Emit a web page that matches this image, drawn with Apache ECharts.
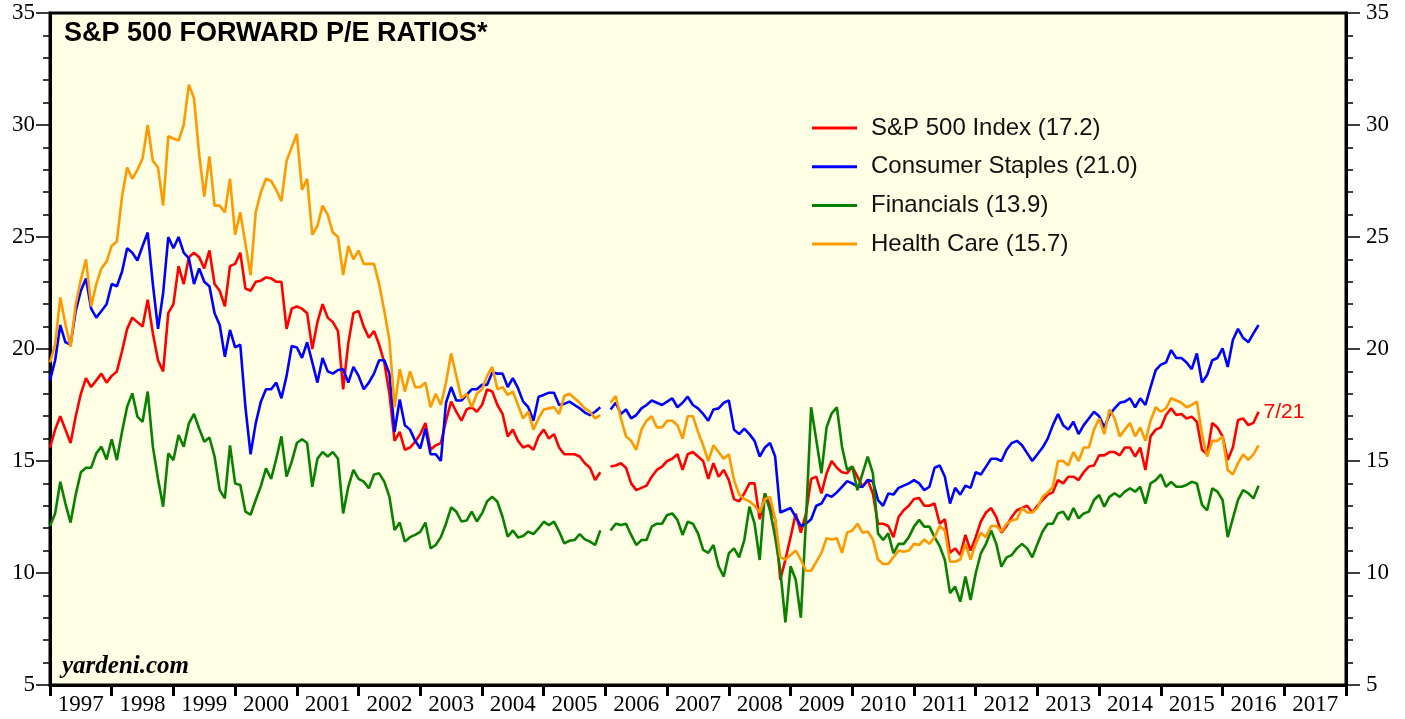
<!DOCTYPE html>
<html>
<head>
<meta charset="utf-8">
<title>S&amp;P 500 Forward P/E Ratios</title>
<script src="https://cdn.jsdelivr.net/npm/echarts@6/dist/echarts.min.js"></script>
<style>
  html, body { margin: 0; padding: 0; background: #fff; }
  #chart { width: 1405px; height: 719px; }
</style>
</head>
<body>
<div id="chart"></div>
<script>
// monthly readings, Jan 1997 .. Jul 2016 (index 108 = gap where the source switches to weekly data)
const startYear = 1997;
const yearLabels = ["1997", "1998", "1999", "2000", "2001", "2002", "2003", "2004", "2005", "2006", "2007",
  "2008", "2009", "2010", "2011", "2012", "2013", "2014", "2015", "2016", "2017"];

const sp500 = [
  15.6, 16.4, 17.0, 16.4, 15.8, 17.0, 18.0, 18.7, 18.3, 18.6,
  18.9, 18.5, 18.8, 19.0, 19.9, 20.9, 21.4, 21.2, 21.0, 22.2,
  20.7, 19.5, 19.0, 21.6, 22.0, 23.7, 22.9, 24.1, 24.3, 24.1,
  23.6, 24.4, 22.9, 22.6, 21.9, 23.7, 23.8, 24.3, 22.7, 22.6,
  23.0, 23.05, 23.2, 23.15, 23.0, 23.0, 20.9, 21.8, 21.9, 21.8,
  21.6, 20.0, 21.2, 22.0, 21.4, 21.2, 20.8, 18.2, 20.25, 21.6,
  21.7, 21.0, 20.5, 20.8, 20.2, 19.4, 18.0, 15.9, 16.3, 15.5,
  15.6, 15.86, 16.2, 16.7, 15.5, 15.7, 15.8, 16.8, 17.65, 17.2,
  16.8, 17.3, 17.4, 17.2, 17.5, 18.2, 18.1, 17.5, 17.1, 16.1,
  16.4, 15.9, 15.6, 15.7, 15.5, 16.1, 16.4, 16.0, 16.2, 15.6,
  15.3, 15.3, 15.3, 15.2, 14.9, 14.7, 14.15, 14.5, null, 14.75,
  14.8, 14.9, 14.7, 14.0, 13.7, 13.8, 13.9, 14.3, 14.6, 14.75,
  15.0, 15.1, 15.3, 14.6, 15.3, 15.4, 15.2, 15.0, 14.2, 14.9,
  14.3, 14.6, 14.15, 13.3, 13.2, 13.55, 14.0, 14.0, 12.4, 13.55,
  13.0, 12.4, 9.7, 10.6, 11.6, 12.65, 11.8, 12.65, 14.2, 14.3,
  13.55, 14.45, 15.0, 14.7, 14.5, 14.45, 14.75, 14.3, 13.85, 14.15,
  13.55, 12.2, 12.2, 12.1, 11.6, 12.5, 12.8, 13.0, 13.3, 13.35,
  13.0, 13.0, 13.1, 12.2, 12.4, 10.9, 11.1, 10.8, 11.7, 11.0,
  11.6, 12.3, 12.7, 12.9, 12.5, 11.8, 12.1, 12.5, 12.8, 12.9,
  13.0, 12.7, 13.0, 13.25, 13.5, 13.6, 14.15, 14.0, 14.3, 14.3,
  14.15, 14.5, 14.75, 14.8, 15.25, 15.25, 15.4, 15.4, 15.25, 15.6,
  15.6, 15.2, 15.6, 14.6, 16.1, 16.4, 16.5, 17.05, 17.35, 17.05,
  17.1, 16.9, 16.98, 16.75, 15.5, 15.3, 16.7, 16.5, 16.1, 15.05,
  15.6, 16.83, 16.9, 16.6, 16.7, 17.2
];

const staples = [
  18.6, 19.5, 21.07, 20.3, 20.2, 21.7, 22.6, 23.15, 21.8, 21.4,
  21.7, 22.0, 22.9, 22.8, 23.45, 24.5, 24.3, 23.95, 24.6, 25.2,
  22.9, 20.9, 22.5, 25.0, 24.5, 25.0, 24.3, 24.05, 22.9, 23.6,
  23.0, 22.8, 21.6, 21.07, 19.65, 20.85, 20.07, 20.2, 17.4, 15.3,
  16.68, 17.65, 18.2, 18.2, 18.5, 17.8, 18.8, 20.13, 20.07, 19.6,
  20.3, 19.4, 18.5, 19.6, 19.0, 18.9, 19.06, 19.1, 18.5, 19.2,
  18.8, 18.2, 18.5, 18.9, 19.5, 19.5, 18.9, 16.3, 17.75, 16.6,
  16.4, 15.9, 15.56, 16.45, 15.3, 15.3, 15.0, 17.6, 18.3, 17.7,
  17.7, 17.95, 18.2, 18.2, 18.4, 18.4, 18.95, 18.9, 18.9, 18.3,
  18.7, 18.25, 17.65, 17.4, 16.8, 17.87, 17.95, 18.05, 18.05, 17.5,
  17.55, 17.65, 17.5, 17.35, 17.16, 17.05, 17.2, 17.4, null, 17.3,
  17.6, 17.1, 17.3, 16.9, 17.05, 17.35, 17.5, 17.7, 17.6, 17.5,
  17.65, 17.8, 17.4, 17.6, 17.87, 17.5, 17.35, 17.1, 16.8, 17.3,
  17.35, 17.6, 17.7, 16.4, 16.2, 16.45, 16.2, 15.9, 15.2, 15.6,
  15.8, 15.2, 12.7, 12.8, 12.9, 12.5, 12.1, 12.2, 12.4, 13.0,
  13.1, 13.5, 13.4, 13.6, 13.85, 14.1, 14.0, 13.85, 13.85, 14.15,
  14.1, 13.25, 13.0, 13.55, 13.5, 13.8, 13.9, 14.0, 14.15, 14.0,
  13.7, 13.85, 14.7, 14.8, 14.3, 13.1, 13.8, 13.5, 13.9, 13.8,
  14.5, 14.4, 14.75, 15.1, 15.1, 15.0, 15.5, 15.8, 15.9, 15.7,
  15.35, 15.0, 15.3, 15.6, 16.0, 16.6, 17.1, 16.6, 16.4, 16.75,
  16.2, 16.6, 16.9, 17.2, 17.0, 16.5, 17.05, 17.35, 17.6, 17.65,
  17.8, 17.4, 17.8, 17.5, 18.3, 19.06, 19.3, 19.4, 19.95, 19.6,
  19.6, 19.4, 19.1, 19.8, 18.5, 18.84, 19.5, 19.6, 20.03, 19.2,
  20.4, 20.9, 20.5, 20.3, 20.7, 21.07
];

const financials = [
  12.1, 12.66, 14.07, 13.1, 12.25, 13.5, 14.5, 14.7, 14.7, 15.34,
  15.64, 15.07, 15.97, 15.04, 16.3, 17.42, 18.02, 16.98, 16.75, 18.1,
  15.64, 14.2, 12.96, 15.34, 15.04, 16.16, 15.64, 16.68, 17.1, 16.45,
  15.86, 16.05, 15.2, 13.7, 13.33, 15.7, 14.0, 13.93, 12.74, 12.6,
  13.26, 13.88, 14.67, 14.2, 15.1, 16.1, 14.3, 14.97, 15.8, 15.97,
  15.8, 13.85, 15.1, 15.4, 15.2, 15.4, 15.1, 12.66, 13.85, 14.6,
  14.2, 14.08, 13.78, 14.4, 14.45, 14.08, 13.4, 11.92, 12.25, 11.4,
  11.6, 11.7, 11.84, 12.25, 11.1, 11.25, 11.6, 12.2, 12.93, 12.74,
  12.3, 12.34, 12.74, 12.3, 12.66, 13.2, 13.4, 13.18, 12.5, 11.62,
  11.9, 11.59, 11.65, 11.85, 11.74, 11.99, 12.29, 12.14, 12.29, 11.85,
  11.32, 11.44, 11.47, 11.74, 11.5, 11.4, 11.25, 11.9, null, 11.9,
  12.2, 12.14, 12.2, 11.7, 11.25, 11.47, 11.47, 12.07, 12.2, 12.2,
  12.59, 12.66, 12.37, 11.7, 12.29, 12.2, 11.77, 11.03, 10.9, 11.25,
  10.3, 9.84, 10.88, 11.1, 10.7, 11.47, 12.96, 12.2, 10.58, 13.56,
  12.8, 11.6, 10.13, 7.8, 10.3, 9.7, 8.0, 12.37, 17.4, 15.94,
  14.45, 16.5, 17.13, 17.4, 15.64, 14.6, 14.75, 13.7, 14.45, 15.2,
  14.45, 11.77, 11.47, 11.77, 10.88, 11.3, 11.3, 11.6, 12.07, 12.37,
  12.07, 12.07, 11.6, 11.2, 10.58, 9.1, 9.39, 8.72, 9.84, 8.8,
  9.99, 10.88, 11.3, 11.9, 11.3, 10.28, 10.7, 10.8, 11.1, 11.3,
  11.1, 10.7, 11.3, 11.85, 12.2, 12.2, 12.66, 12.74, 12.37, 12.9,
  12.44, 12.66, 12.74, 13.26, 13.48, 12.96, 13.4, 13.56, 13.4, 13.63,
  13.78, 13.63, 13.85, 13.1, 14.0, 14.15, 14.4, 13.85, 14.07, 13.85,
  13.85, 13.93, 14.07, 14.0, 13.04, 12.8, 13.78, 13.63, 13.26, 11.6,
  12.44, 13.26, 13.7, 13.56, 13.33, 13.9
];

const healthCare = [
  19.4, 20.2, 22.3, 21.1, 20.1, 22.0, 23.1, 24.0, 21.9, 22.9,
  23.6, 23.9, 24.6, 24.8, 26.8, 28.1, 27.6, 28.0, 28.5, 30.0,
  28.4, 28.1, 26.4, 29.5, 29.4, 29.3, 30.0, 31.8, 31.2, 28.7,
  26.8, 28.6, 26.4, 26.4, 26.1, 27.6, 25.1, 26.1, 24.7, 23.3,
  26.1, 27.0, 27.6, 27.5, 27.1, 26.6, 28.4, 29.0, 29.6, 27.1,
  27.6, 25.1, 25.5, 26.4, 26.0, 25.2, 25.0, 23.3, 24.6, 24.0,
  24.4, 23.8, 23.8, 23.8, 22.9, 21.7, 20.4, 17.4, 19.1, 18.1,
  19.0, 18.3, 18.3, 18.5, 17.4, 18.0, 17.5, 18.5, 19.8, 18.8,
  17.8, 18.0, 17.4, 18.0, 18.2, 18.8, 19.2, 18.2, 18.3, 17.95,
  18.1, 17.5, 16.9, 17.2, 16.4, 16.9, 17.3, 17.35, 17.4, 17.1,
  17.9, 18.0, 17.8, 17.6, 17.35, 17.2, 16.9, 17.05, null, 17.6,
  17.9, 16.9, 16.1, 15.9, 15.5, 16.4, 16.8, 17.0, 16.5, 16.5,
  16.8, 16.8, 16.6, 16.0, 17.0, 17.0, 16.3, 15.7, 15.0, 15.7,
  15.4, 15.1, 15.3, 14.15, 13.5, 13.3, 13.2, 13.0, 12.7, 13.3,
  13.4, 12.4, 10.7, 10.6, 10.8, 11.0, 10.6, 10.1, 10.1, 10.5,
  10.9, 11.55, 11.5, 11.55, 10.9, 11.8, 11.9, 12.2, 11.8, 11.85,
  11.5, 10.6, 10.4, 10.4, 10.7, 11.0, 10.95, 11.0, 11.3, 11.25,
  11.5, 11.3, 11.6, 12.1, 11.9, 10.5, 10.5, 10.6, 11.3, 10.6,
  11.3, 11.8, 11.6, 12.1, 12.1, 11.85, 12.2, 12.35, 12.4, 12.9,
  12.7, 12.7, 12.9, 13.4, 13.6, 13.85, 15.0, 15.0, 14.8, 15.4,
  15.0, 15.6, 15.6, 16.4, 16.9, 16.2, 17.3, 16.9, 16.1, 16.4,
  16.7, 16.1, 16.5, 15.9, 16.8, 17.4, 17.2, 17.35, 17.8, 17.7,
  17.6, 17.4, 17.5, 17.65, 16.2, 15.2, 15.9, 15.9, 16.1, 14.6,
  14.4, 14.9, 15.3, 15.05, 15.3, 15.7
];

function toPoints(vals) {
  return vals.map((v, i) => [startYear + i / 12, v]);
}

const serif = "'Liberation Serif', 'DejaVu Serif', serif";
const sans = "'Liberation Sans', Arial, sans-serif";

const chart = echarts.init(document.getElementById("chart"));

function yAxisDef(position) {
  return {
    type: "value",
    position: position,
    min: 5,
    max: 35,
    interval: 5,
    axisLine: { show: true, lineStyle: { color: "#000", width: 3 } },
    axisTick: { show: true, inside: false, length: 14, lineStyle: { color: "#000", width: 1.5 } },
    minorTick: { show: true, splitNumber: 5, length: 7, lineStyle: { color: "#000", width: 1.5 } },
    axisLabel: { color: "#000", fontFamily: serif, fontSize: 23, margin: position === "left" ? 15 : 20 },
    splitLine: { show: false }
  };
}

function lineSeries(name, vals, color) {
  return {
    name: name,
    type: "line",
    xAxisIndex: 1,
    data: toPoints(vals),
    showSymbol: false,
    symbol: "none",
    connectNulls: false,
    lineStyle: { color: color, width: 2.6 },
    itemStyle: { color: color },
    emphasis: { disabled: true }
  };
}

const spSeries = lineSeries("S&P 500 Index (17.2)", sp500, "#ff0000");
spSeries.endLabel = { show: true, formatter: "7/21", color: "#ff0000", fontFamily: sans, fontSize: 21, distance: 5 };

chart.setOption({
  animation: false,
  backgroundColor: "#ffffff",
  grid: {
    left: 50, right: 59, top: 13, bottom: 34,
    show: true, backgroundColor: "#fefee4", borderColor: "#000", borderWidth: 3
  },
  legend: {
    orient: "vertical",
    left: 812,
    top: 115,
    padding: 0,
    icon: "rect",
    itemWidth: 45,
    itemHeight: 3,
    itemGap: 12.7,
    textStyle: { color: "#111", fontFamily: sans, fontSize: 24, lineHeight: 26, padding: [0, 0, 0, 9] },
    selectedMode: false
  },
  graphic: [
    {
      type: "text", left: 64, top: 20,
      style: { text: "S&P 500 FORWARD P/E RATIOS*", fill: "#000", font: "bold 27px " + sans }
    },
    {
      type: "text", left: 62, top: 654,
      style: { text: "yardeni.com", fill: "#000", font: "italic bold 25px " + serif }
    }
  ],
  xAxis: [
    {
      type: "category",
      data: yearLabels,
      boundaryGap: true,
      axisLine: { show: true, lineStyle: { color: "#000", width: 3 } },
      axisTick: { show: true, interval: 0, length: 11, lineStyle: { color: "#000", width: 3 } },
      axisLabel: { interval: 0, color: "#000", fontFamily: serif, fontSize: 23, margin: 8 },
      splitLine: { show: false }
    },
    { type: "value", min: 1997, max: 2018, show: false }
  ],
  yAxis: [yAxisDef("left"), yAxisDef("right")],
  series: [
    spSeries,
    lineSeries("Consumer Staples (21.0)", staples, "#0000ff"),
    lineSeries("Financials (13.9)", financials, "#0a8000"),
    lineSeries("Health Care (15.7)", healthCare, "#ff9900")
  ]
});
</script>
</body>
</html>
